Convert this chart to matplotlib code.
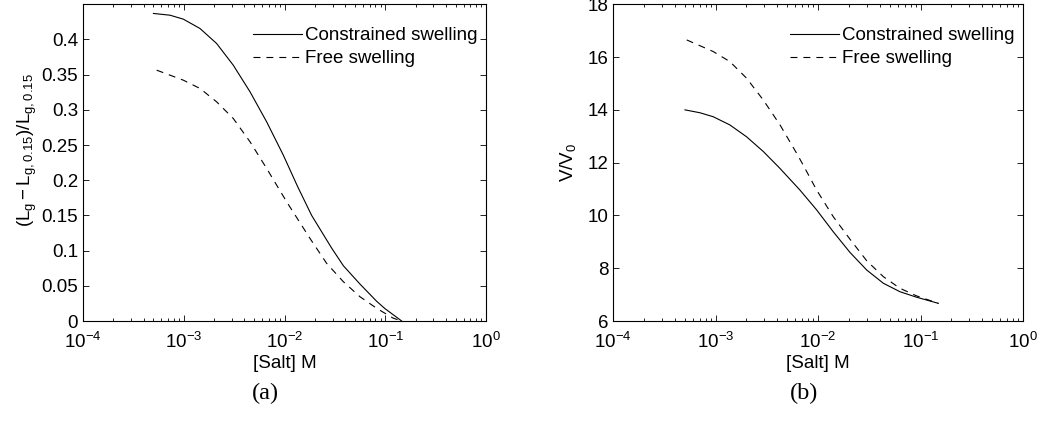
import matplotlib
matplotlib.use("Agg")
import matplotlib.pyplot as plt
from matplotlib.ticker import LogLocator, NullFormatter, FixedLocator, FixedFormatter

plt.rcParams['font.family'] = ['Liberation Sans', 'DejaVu Sans']
plt.rcParams['mathtext.fontset'] = 'custom'
plt.rcParams['mathtext.rm'] = 'Liberation Sans'
plt.rcParams['mathtext.it'] = 'Liberation Sans'
plt.rcParams['mathtext.default'] = 'regular'
plt.rcParams['lines.scale_dashes'] = False

# ---------------- data ----------------
# panel (a): relative gel length change vs salt concentration
a_con_x = [5.0e-4, 7.31e-4, 9.9e-4, 1.45e-3, 2.12e-3, 3.10e-3, 4.55e-3, 6.65e-3,
           9.73e-3, 1.35e-2, 1.86e-2, 2.94e-2, 3.84e-2, 5.61e-2, 8.22e-2, 9.95e-2, 1.456e-1]
a_con_y = [0.437, 0.4345, 0.4289, 0.4156, 0.3943, 0.3635, 0.3256, 0.2830,
           0.2357, 0.191, 0.150, 0.1035, 0.0785, 0.0525, 0.028, 0.0175, 0.0]
a_free_x = [5.39e-4, 9.9e-4, 1.45e-3, 2.12e-3, 3.10e-3, 4.55e-3, 6.65e-3, 1.05e-2,
            1.79e-2, 2.62e-2, 3.84e-2, 5.61e-2, 8.22e-2, 1.20e-1, 1.456e-1]
a_free_y = [0.3564, 0.3422, 0.3304, 0.3114, 0.2878, 0.2546, 0.2168, 0.1694,
            0.1174, 0.0819, 0.0558, 0.0345, 0.018, 0.004, 0.0]

# panel (b): volume ratio vs salt concentration
b_con_x = [5.04e-4, 7.06e-4, 9.5e-4, 1.38e-3, 2.01e-3, 2.93e-3, 4.26e-3, 6.67e-3, 9.7e-3,
           1.41e-2, 2.05e-2, 2.99e-2, 4.34e-2, 6.3e-2, 9.18e-2, 1.49e-1]
b_con_y = [14.0, 13.89, 13.74, 13.43, 12.98, 12.42, 11.78, 10.96, 10.21,
           9.38, 8.60, 7.93, 7.43, 7.11, 6.90, 6.67]
b_free_x = [5.24e-4, 9.5e-4, 1.38e-3, 2.01e-3, 2.93e-3, 4.26e-3, 6.2e-3, 7.19e-3,
            9.7e-3, 1.41e-2, 2.05e-2, 2.99e-2, 4.34e-2, 6.3e-2, 9.18e-2, 1.49e-1]
b_free_y = [16.65, 16.21, 15.83, 15.20, 14.37, 13.43, 12.35, 11.90,
            10.96, 9.95, 9.10, 8.28, 7.68, 7.24, 6.95, 6.67]

a_yticks = [0, 0.05, 0.1, 0.15, 0.2, 0.25, 0.3, 0.35, 0.4]
a_yticklabels = ['0', '0.05', '0.1', '0.15', '0.2', '0.25', '0.3', '0.35', '0.4']
b_yticks = [6, 8, 10, 12, 14, 16, 18]
b_yticklabels = ['6', '8', '10', '12', '14', '16', '18']

series_labels = ['Constrained swelling', 'Free swelling']
x_label = '[Salt] M'
a_ylabel = r'$(L_g - L_{g,0.15})/L_{g,0.15}$'
b_ylabel = r'$V/V_0$'
captions = ['(a)', '(b)']

FS = 13.5
W, H = 1037, 423
fig = plt.figure(figsize=(W / 100, H / 100), dpi=100)

axA = fig.add_axes([83 / W, 1 - 321 / H, 403 / W, (321 - 4.3) / H])
axB = fig.add_axes([613 / W, 1 - 321 / H, 410 / W, (321 - 4.3) / H])

lw = 0.8
dash = (5.0, 4.3)


def style(ax):
    ax.set_xscale('log')
    ax.set_xlim(1e-4, 1e0)
    ax.xaxis.set_major_locator(LogLocator(base=10, numticks=10))
    ax.xaxis.set_minor_locator(LogLocator(base=10, subs=range(2, 10), numticks=10))
    ax.xaxis.set_minor_formatter(NullFormatter())
    ax.tick_params(which='both', direction='in', top=True, right=True,
                   labelsize=FS, width=0.6, colors='black')
    ax.tick_params(which='major', length=4.0)
    ax.tick_params(which='minor', length=2.2)
    ax.tick_params(axis='x', which='major', pad=7.8)
    for s in ax.spines.values():
        s.set_linewidth(0.8)
    ax.set_xlabel(x_label, fontsize=FS, labelpad=2.5)


for ax, cx, cy, fx, fy in [(axA, a_con_x, a_con_y, a_free_x, a_free_y),
                           (axB, b_con_x, b_con_y, b_free_x, b_free_y)]:
    ax.plot(cx, cy, color='black', lw=lw, label=series_labels[0])
    ax.plot(fx, fy, color='black', lw=lw, linestyle=(0, dash), label=series_labels[1])
    style(ax)

axA.set_ylim(0, 0.45)
axA.yaxis.set_major_locator(FixedLocator(a_yticks))
axA.yaxis.set_major_formatter(FixedFormatter(a_yticklabels))
axA.set_ylabel(a_ylabel, fontsize=FS, labelpad=2)
axA.yaxis.label.set_y(0.54)

axB.set_ylim(6, 18)
axB.yaxis.set_major_locator(FixedLocator(b_yticks))
axB.yaxis.set_major_formatter(FixedFormatter(b_yticklabels))
axB.set_ylabel(b_ylabel, fontsize=FS, labelpad=7)

for ax, xr in [(axA, 0.989), (axB, 0.9896)]:
    ax.legend(loc='upper right', bbox_to_anchor=(xr, 0.939), frameon=False,
              fontsize=FS, handlelength=2.6, handletextpad=0.2,
              labelspacing=0.31, borderpad=0.2, borderaxespad=0)

fig.text(265 / W, 1 - 393 / H, captions[0], ha='center', va='center',
         fontsize=17.5, family='Liberation Serif')
fig.text(804 / W, 1 - 393 / H, captions[1], ha='center', va='center',
         fontsize=17.5, family='Liberation Serif')

fig.savefig('out.png', dpi=100)
